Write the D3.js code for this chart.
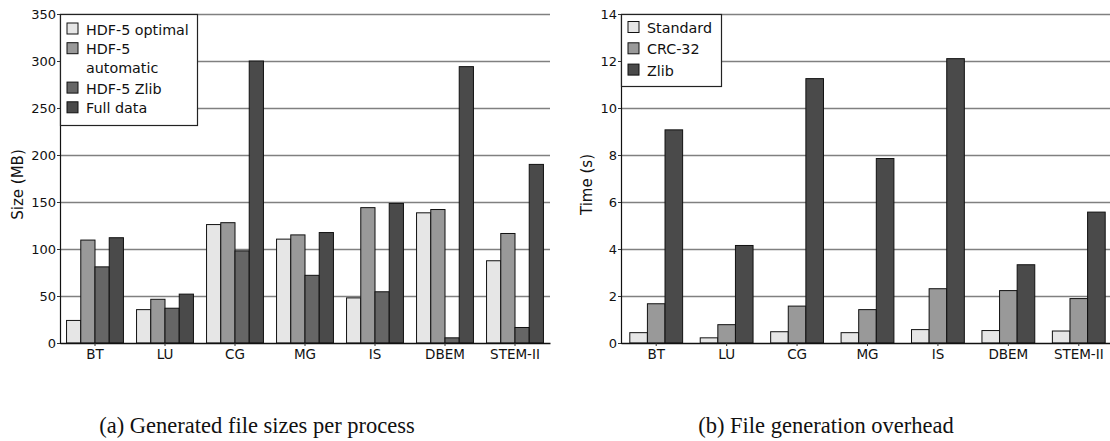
<!DOCTYPE html>
<html>
<head>
<meta charset="utf-8">
<script src="https://cdn.jsdelivr.net/npm/d3@7"></script>
<style>
  body { margin: 0; background: #fff; }
  svg { display: block; }
  text { font-family: "DejaVu Sans", sans-serif; fill: #111; }
  .caption { font-family: "Liberation Serif", "Times New Roman", serif; font-size: 22.5px; }
</style>
</head>
<body>
<svg id="chart" width="1110" height="441"></svg>
<script>
// ---- Data ----
const categories = ["BT", "LU", "CG", "MG", "IS", "DBEM", "STEM-II"];

// (a) Generated file sizes per process (MB)
const sizeSeriesNames = ["HDF-5 optimal", "HDF-5 automatic", "HDF-5 Zlib", "Full data"];
const hdf5Optimal   = [24, 35.5, 126, 110.5, 48, 138.5, 87.5];
const hdf5Automatic = [109.5, 46.5, 128, 115, 144, 142, 116.5];
const hdf5Zlib      = [81, 37, 98, 72, 54.5, 5.5, 16.5];
const fullData      = [112, 52, 300, 117.5, 148.5, 294, 190];
const sizeTicks = [0, 50, 100, 150, 200, 250, 300, 350];

// (b) File generation overhead (s)
const timeSeriesNames = ["Standard", "CRC-32", "Zlib"];
const timeStandard = [0.44, 0.22, 0.48, 0.44, 0.57, 0.53, 0.51];
const timeCRC32    = [1.67, 0.78, 1.57, 1.42, 2.31, 2.23, 1.89];
const timeZlib     = [9.07, 4.15, 11.25, 7.85, 12.1, 3.33, 5.57];
const timeTicks = [0, 2, 4, 6, 8, 10, 12, 14];

const sizeColors = ["#e6e6e6", "#999999", "#666666", "#4a4a4a"];
const timeColors = ["#e6e6e6", "#999999", "#4a4a4a"];

const svg = d3.select("#chart");

function drawPanel(opts) {
  const { x0, x1, y0, y1, yMax, ticks, series, names, colors, groupPad, yLabel, yLabelX,
          legend, caption, captionX } = opts;
  const g = svg.append("g");
  const x = d3.scaleBand().domain(categories).range([x0, x1]).paddingInner(0).paddingOuter(0);
  const xs = d3.scaleBand().domain(d3.range(series.length)).range([0, x.bandwidth()])
    .paddingOuter(groupPad).paddingInner(0);
  const y = d3.scaleLinear().domain([0, yMax]).range([y0, y1]);

  // gridlines
  g.append("g").selectAll("line").data(ticks.filter(t => t > 0)).join("line")
    .attr("x1", x0).attr("x2", x1)
    .attr("y1", d => y(d) + 0.5).attr("y2", d => y(d) + 0.5)
    .attr("stroke", "#808080").attr("stroke-width", 1.5);

  // bars
  series.forEach((vals, si) => {
    g.append("g").selectAll("rect").data(vals).join("rect")
      .attr("x", (d, i) => x(categories[i]) + xs(si))
      .attr("y", d => y(d))
      .attr("width", xs.bandwidth())
      .attr("height", d => y(0) - y(d))
      .attr("fill", colors[si])
      .attr("stroke", "#111").attr("stroke-width", 1);
  });

  // y axis
  const ya = g.append("g").attr("transform", `translate(${x0},0)`)
    .call(d3.axisLeft(y).tickValues(ticks).tickSize(3).tickPadding(1).tickFormat(d3.format("d")));
  ya.select(".domain").attr("stroke", "#111").attr("stroke-width", 1.2);
  ya.selectAll(".tick line").attr("stroke", "#333");
  ya.selectAll("text").style("font-size", "13px").style("font-family", "DejaVu Sans, sans-serif").attr("fill", "#111");

  // x axis
  const xa = g.append("g").attr("transform", `translate(0,${y0})`)
    .call(d3.axisBottom(x).tickSize(3).tickPadding(3).tickSizeOuter(0));
  xa.select(".domain").attr("stroke", "#111").attr("stroke-width", 1.5);
  xa.selectAll(".tick line").attr("stroke", "#333");
  xa.selectAll("text").style("font-size", "13.5px").style("font-family", "DejaVu Sans, sans-serif").attr("fill", "#111");

  // y label
  g.append("text")
    .attr("transform", `translate(${yLabelX},${(y0 + y1) / 2 + 6}) rotate(-90)`)
    .attr("text-anchor", "middle")
    .style("font-size", "15px")
    .text(yLabel);

  // legend
  const lg = g.append("g");
  lg.append("rect").attr("x", x0 + 0.5).attr("y", y1 + 0.5)
    .attr("width", legend.w).attr("height", legend.h)
    .attr("fill", "#fff").attr("stroke", "#222").attr("stroke-width", 1.2);
  let cy = y1 + legend.top;
  names.forEach((n, i) => {
    const lines = legend.wrap && legend.wrap[i] ? legend.wrap[i] : [n];
    lg.append("rect").attr("x", x0 + 7).attr("y", cy - 6)
      .attr("width", 11).attr("height", 11)
      .attr("fill", colors[i]).attr("stroke", "#111").attr("stroke-width", 1);
    lines.forEach((ln, li) => {
      lg.append("text").attr("x", x0 + legend.textDx).attr("y", cy + 5.5 + li * legend.lineH)
        .style("font-size", "14.3px").text(ln);
    });
    cy += legend.rowH * lines.length;
  });

  // caption
  svg.append("text").attr("class", "caption")
    .attr("x", captionX).attr("y", 433).attr("text-anchor", "middle").text(caption);
}

drawPanel({
  x0: 60, x1: 550, y0: 343, y1: 14, yMax: 350, ticks: sizeTicks,
  series: [hdf5Optimal, hdf5Automatic, hdf5Zlib, fullData],
  names: sizeSeriesNames, colors: sizeColors, groupPad: 0.46,
  yLabel: "Size (MB)", yLabelX: 23,
  legend: { w: 137, h: 111, top: 15, rowH: 19.7, lineH: 19, textDx: 26,
            wrap: [null, ["HDF-5", "automatic"], null, null] },
  caption: "(a) Generated file sizes per process", captionX: 257
});

drawPanel({
  x0: 621, x1: 1114, y0: 343, y1: 14, yMax: 14, ticks: timeTicks,
  series: [timeStandard, timeCRC32, timeZlib],
  names: timeSeriesNames, colors: timeColors, groupPad: 0.5,
  yLabel: "Time (s)", yLabelX: 592,
  legend: { w: 100, h: 72, top: 13.5, rowH: 21.3, lineH: 19, textDx: 26 },
  caption: "(b) File generation overhead", captionX: 826
});
</script>
</body>
</html>
